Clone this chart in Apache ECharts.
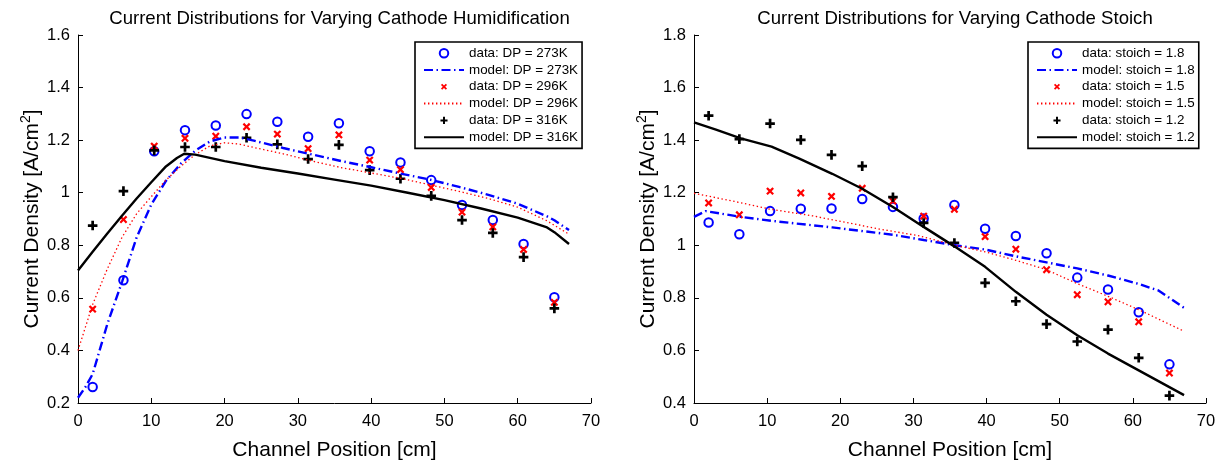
<!DOCTYPE html>
<html>
<head>
<meta charset="utf-8">
<script src="https://cdn.jsdelivr.net/npm/echarts@6/dist/echarts.min.js"></script>
<style>
html,body{margin:0;padding:0;background:#fff;}
#c{width:1227px;height:466px;}
</style>
</head>
<body>
<div id="c"></div>
<script>
// ---------- data ----------
var dataX = [2.0, 6.2, 10.4, 14.6, 18.8, 23.0, 27.2, 31.4, 35.6, 39.8, 44.0, 48.2, 52.4, 56.6, 60.8, 65.0];

// Left: varying cathode humidification
var dp273Data = [0.261, 0.667, 1.158, 1.238, 1.256, 1.299, 1.270, 1.213, 1.264, 1.158, 1.115, 1.048, 0.953, 0.896, 0.805, 0.602];
var dp296Data = [0.557, 0.898, 1.177, 1.207, 1.215, 1.251, 1.223, 1.168, 1.220, 1.124, 1.088, 1.020, 0.926, 0.870, 0.784, 0.583];
var dp316Data = [0.875, 1.006, 1.161, 1.174, 1.174, 1.209, 1.184, 1.128, 1.182, 1.086, 1.053, 0.988, 0.896, 0.847, 0.755, 0.560];

var dp273ModelX = [0, 1, 2, 4, 6, 8, 10, 12, 14, 16, 18, 20, 22, 24, 28, 32, 36, 40, 44, 48, 52, 56, 60, 64, 65, 67];
var dp273ModelY = [0.22, 0.26, 0.31, 0.50, 0.66, 0.83, 0.955, 1.045, 1.11, 1.16, 1.195, 1.21, 1.21, 1.198, 1.17, 1.145, 1.12, 1.097, 1.073, 1.05, 1.022, 0.992, 0.958, 0.91, 0.895, 0.858];
var dp296ModelX = [0, 2, 4, 6, 8, 10, 12, 14, 16, 18, 20, 22, 24, 28, 32, 36, 40, 44, 48, 52, 56, 60, 64, 67];
var dp296ModelY = [0.40, 0.575, 0.71, 0.83, 0.92, 0.985, 1.048, 1.10, 1.145, 1.178, 1.19, 1.185, 1.172, 1.148, 1.12, 1.095, 1.075, 1.055, 1.03, 1.005, 0.978, 0.945, 0.893, 0.842];
var dp316ModelX = [0, 2, 4, 6, 8, 10, 12, 13.5, 14.5, 16, 20, 25, 30, 35, 40, 45, 50, 55, 60, 64, 65, 67];
var dp316ModelY = [0.704, 0.775, 0.845, 0.912, 0.978, 1.04, 1.10, 1.132, 1.148, 1.145, 1.12, 1.095, 1.073, 1.05, 1.027, 1.0, 0.972, 0.94, 0.905, 0.868, 0.85, 0.805];

// Right: varying cathode stoich
var st18Data = [1.087, 1.042, 1.130, 1.139, 1.140, 1.176, 1.146, 1.102, 1.153, 1.063, 1.035, 0.970, 0.877, 0.832, 0.745, 0.547];
var st15Data = [1.161, 1.116, 1.206, 1.199, 1.186, 1.217, 1.168, 1.111, 1.137, 1.033, 0.985, 0.907, 0.812, 0.785, 0.709, 0.514];
var st12Data = [1.493, 1.404, 1.463, 1.401, 1.344, 1.301, 1.183, 1.085, 1.009, 0.857, 0.787, 0.700, 0.634, 0.679, 0.572, 0.428];

var st18ModelX = [0, 1.6, 6.4, 10.6, 18.9, 27.2, 31.4, 35.7, 39.8, 44, 48.2, 52.4, 56.6, 60.8, 63.5, 67];
var st18ModelY = [1.108, 1.13, 1.108, 1.093, 1.068, 1.04, 1.02, 1.0, 0.984, 0.958, 0.935, 0.912, 0.885, 0.853, 0.828, 0.762];
var st15ModelX = [0, 6.2, 10.3, 16.2, 20.8, 25.3, 30.8, 35.7, 39.8, 44, 48.2, 52.4, 56.6, 60.8, 67];
var st15ModelY = [1.198, 1.163, 1.138, 1.112, 1.087, 1.062, 1.036, 1.0, 0.975, 0.943, 0.907, 0.854, 0.806, 0.755, 0.673];
var st12ModelX = [0, 3, 6.4, 10.6, 14.4, 18.9, 23, 27.2, 31.4, 35.7, 39.8, 44, 48.2, 52.4, 56.6, 60.8, 67];
var st12ModelY = [1.468, 1.44, 1.407, 1.375, 1.33, 1.272, 1.215, 1.146, 1.07, 0.994, 0.918, 0.823, 0.736, 0.658, 0.588, 0.524, 0.43];

var xTicks = [0, 10, 20, 30, 40, 50, 60, 70];
var leftYTicks = [0.2, 0.4, 0.6, 0.8, 1, 1.2, 1.4, 1.6];
var rightYTicks = [0.4, 0.6, 0.8, 1, 1.2, 1.4, 1.6, 1.8];

var leftTitle = 'Current Distributions for Varying Cathode Humidification';
var rightTitle = 'Current Distributions for Varying Cathode Stoich';
var leftNames = ['data: DP = 273K', 'model: DP = 273K', 'data: DP = 296K', 'model: DP = 296K', 'data: DP = 316K', 'model: DP = 316K'];
var rightNames = ['data: stoich = 1.8', 'model: stoich = 1.8', 'data: stoich = 1.5', 'model: stoich = 1.5', 'data: stoich = 1.2', 'model: stoich = 1.2'];

// ---------- helpers ----------
function pairs(xs, ys) { return xs.map(function (x, i) { return [x, ys[i]]; }); }
var FONT = '"Liberation Sans", Arial, Helvetica, sans-serif';
var BLUE = '#0000ff', RED = '#ff0000', BLACK = '#000000';
var X_PATH = 'path://M-2 -2 M12 12 M2 0 L5 3 L8 0 L10 2 L7 5 L10 8 L8 10 L5 7 L2 10 L0 8 L3 5 L0 2 Z';
var PLUS_PATH = 'path://M-1 -1 M11 11 M3.6 0 L6.4 0 L6.4 3.6 L10 3.6 L10 6.4 L6.4 6.4 L6.4 10 L3.6 10 L3.6 6.4 L0 6.4 L0 3.6 L3.6 3.6 Z';
var DASHDOT = [9, 3.5, 1.5, 3.5];
var DOTTED = [1.4, 2.6];

function scatterS(name, ys, sym, size, color, gi, extraStyle) {
  return {
    type: 'scatter', name: name, xAxisIndex: gi, yAxisIndex: gi,
    data: pairs(dataX, ys), symbol: sym, symbolSize: size,
    itemStyle: Object.assign({ color: color, opacity: 1 }, extraStyle || {}), silent: true, animation: false
  };
}
function lineS(name, xs, ys, color, width, type, gi) {
  return {
    type: 'line', name: name, xAxisIndex: gi, yAxisIndex: gi,
    data: pairs(xs, ys), symbol: 'none', showSymbol: false,
    lineStyle: { color: color, width: width, type: type },
    itemStyle: { color: color }, silent: true, animation: false
  };
}

var axisCommon = {
  axisLine: { show: true, onZero: false, lineStyle: { color: '#000', width: 1 } },
  axisTick: { show: true, inside: true, length: 5, lineStyle: { color: '#000', width: 1 } },
  splitLine: { show: false },
  axisLabel: { color: '#000', fontSize: 16.5, fontFamily: FONT }
};
function xAxisOf(gi) {
  return Object.assign({}, axisCommon, {
    type: 'value', gridIndex: gi, min: xTicks[0], max: xTicks[xTicks.length - 1], interval: 10,
    name: 'Channel Position [cm]', nameLocation: 'middle', nameGap: 37,
    nameTextStyle: { color: '#000', fontSize: 21, fontFamily: FONT },
    axisLabel: Object.assign({}, axisCommon.axisLabel, { margin: 10 })
  });
}
function yAxisOf(gi, ticks) {
  return Object.assign({}, axisCommon, {
    type: 'value', gridIndex: gi, min: ticks[0], max: ticks[ticks.length - 1], interval: 0.2,
    name: '{a|Current Density [A/cm}{s|2}{a|]}', nameLocation: 'middle', nameGap: 25, nameRotate: 90,
    nameTextStyle: {
      color: '#000', fontFamily: FONT,
      rich: {
        a: { fontSize: 21, fontFamily: FONT, color: '#000', lineHeight: 28 },
        s: { fontSize: 14, fontFamily: FONT, color: '#000', verticalAlign: 'top', lineHeight: 14 }
      }
    },
    axisLabel: Object.assign({}, axisCommon.axisLabel, { margin: 8 })
  });
}
function legendOf(names, left) {
  return {
    // model (line) entries hide the legend's centre marker, keeping only the line sample
    data: names.map(function (n, i) {
      return i % 2 === 1 ? { name: n, itemStyle: { opacity: 0 } } : { name: n };
    }),
    left: left, top: 42, orient: 'vertical',
    itemWidth: 40, itemHeight: 8.5, itemGap: 2.4,
    padding: [4, 4, 4, 8],
    backgroundColor: '#fff', borderColor: '#000', borderWidth: 1.6, borderRadius: 0,
    selectedMode: false,
    textStyle: { color: '#000', fontSize: 13.4, fontFamily: FONT, lineHeight: 14.4 }
  };
}

var circleStyle = { borderColor: BLUE, borderWidth: 2.3 };

var option = {
  backgroundColor: '#fff',
  animation: false,
  textStyle: { fontFamily: FONT },
  title: [
    { text: leftTitle, left: 334.5, textAlign: 'center', top: 4,
      textStyle: { color: '#000', fontSize: 18.6, fontWeight: 'normal', fontFamily: FONT } },
    { text: rightTitle, left: 950, textAlign: 'center', top: 4,
      textStyle: { color: '#000', fontSize: 18.6, fontWeight: 'normal', fontFamily: FONT } }
  ],
  grid: [
    { left: 78, right: 636, top: 35, bottom: 63, containLabel: false },
    { left: 694, right: 21, top: 35, bottom: 63, containLabel: false }
  ],
  xAxis: [xAxisOf(0), xAxisOf(1)],
  yAxis: [yAxisOf(0, leftYTicks), yAxisOf(1, rightYTicks)],
  legend: [legendOf(leftNames, 415), legendOf(rightNames, 1028)],
  series: [
    scatterS(leftNames[0], dp273Data, 'emptyCircle', 8.5, BLUE, 0, circleStyle),
    lineS(leftNames[1], dp273ModelX, dp273ModelY, BLUE, 2.4, DASHDOT, 0),
    scatterS(leftNames[2], dp296Data, X_PATH, 11, RED, 0),
    lineS(leftNames[3], dp296ModelX, dp296ModelY, RED, 1.3, DOTTED, 0),
    scatterS(leftNames[4], dp316Data, PLUS_PATH, 11.5, BLACK, 0),
    lineS(leftNames[5], dp316ModelX, dp316ModelY, BLACK, 2.4, 'solid', 0),

    scatterS(rightNames[0], st18Data, 'emptyCircle', 8.5, BLUE, 1, circleStyle),
    lineS(rightNames[1], st18ModelX, st18ModelY, BLUE, 2.4, DASHDOT, 1),
    scatterS(rightNames[2], st15Data, X_PATH, 11, RED, 1),
    lineS(rightNames[3], st15ModelX, st15ModelY, RED, 1.3, DOTTED, 1),
    scatterS(rightNames[4], st12Data, PLUS_PATH, 11.5, BLACK, 1),
    lineS(rightNames[5], st12ModelX, st12ModelY, BLACK, 2.4, 'solid', 1)
  ]
};

var chart = echarts.init(document.getElementById('c'), null, { renderer: 'canvas' });
chart.setOption(option);
</script>
</body>
</html>
